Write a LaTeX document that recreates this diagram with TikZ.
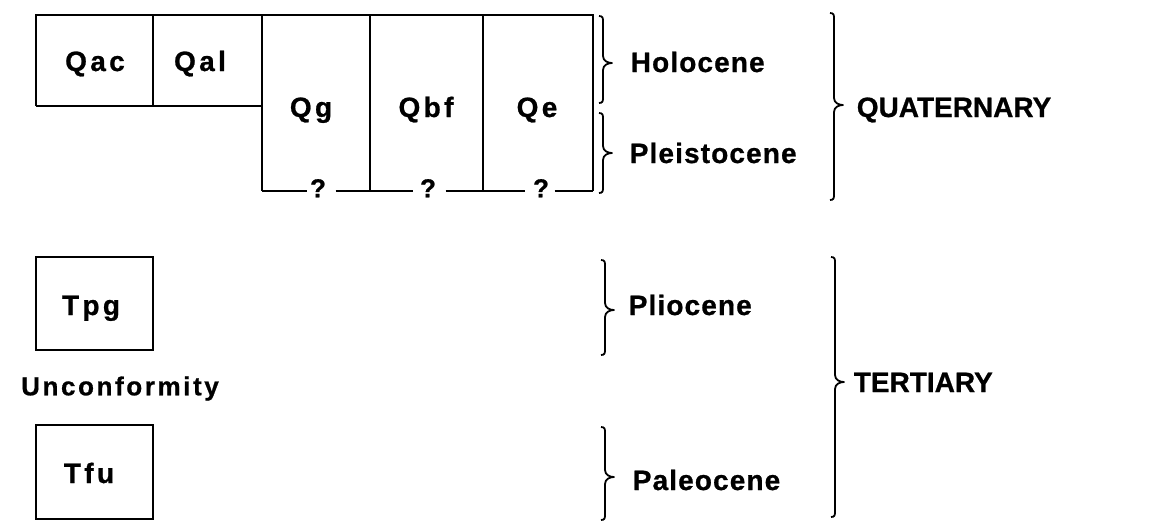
\documentclass[tikz,border=0pt]{standalone}
\usepackage{fontspec}
\setmainfont{Liberation Sans}[BoldFeatures={FakeBold=0.8}]
\newfontfamily\epfont{Liberation Sans}[LetterSpace=4,BoldFeatures={FakeBold=0.8}]
\newfontfamily\perfont{Liberation Sans}[LetterSpace=0,BoldFeatures={FakeBold=0.8}]
\newfontfamily\boxfont{Liberation Sans}[LetterSpace=12,BoldFeatures={FakeBold=0.8}]
\newfontfamily\uncfont{Liberation Sans}[LetterSpace=10,BoldFeatures={FakeBold=0.8}]
% right-pointing brace: x of stem, top y, bottom y, tip y
\newcommand\geobrace[4]{%
  \draw[brc] ({#1-4},{#2}) .. controls ({#1},{#2}) and ({#1},{#2+2}) .. ({#1},{#2+6})
    -- ({#1},{#4-7}) .. controls ({#1},{#4-2}) and ({#1+5},{#4}) .. ({#1+9},{#4})
    .. controls ({#1+5},{#4}) and ({#1},{#4+2}) .. ({#1},{#4+7})
    -- ({#1},{#3-6}) .. controls ({#1},{#3-2}) and ({#1},{#3}) .. ({#1-4},{#3});}
\begin{document}
\begin{tikzpicture}[x=1pt,y=-1pt,line width=1.6pt,
  lbl/.style={font=\fontsize{28}{28}\selectfont\epfont\bfseries,inner sep=0pt,text height=20pt,text depth=0pt},
  perlbl/.style={font=\fontsize{28}{28}\selectfont\perfont\bfseries,inner sep=0pt,text height=20pt,text depth=0pt},
  boxlbl/.style={font=\fontsize{28}{28}\selectfont\boxfont\bfseries,inner sep=0pt,text height=20pt,text depth=0pt},
  qm/.style={font=\fontsize{26}{26}\selectfont\bfseries,inner sep=0pt,text height=18.6pt,text depth=0pt},
  brc/.style={line width=1.8pt,line join=round}]
\useasboundingbox (0,0) rectangle (1153,520);
% Quaternary units frame
\coordinate (tl) at (36,15);
\coordinate (tr) at (593,15);
\coordinate (ml) at (36,106);
\coordinate (mr) at (262,106);
\coordinate (bl) at (262,191);
\coordinate (br) at (593,191);
\draw (ml) -- (tl) -- (tr) -- (br);
\draw (ml) -- (mr);
\draw (153,15) -- (153,106);
\draw (262,15) -- (bl);
\draw (370,15) -- (370,191);
\draw (483,15) -- (483,191);
\node[qm] (q1) at (318,188) {?};
\node[qm] (q2) at (428,188) {?};
\node[qm] (q3) at (541,188) {?};
\draw (bl) -- ([xshift=-2pt]q1.west |- bl);
\draw ([xshift=9pt]q1.east |- bl) -- ([xshift=-6pt]q2.west |- bl);
\draw ([xshift=9pt]q2.east |- bl) -- ([xshift=-7pt]q3.west |- bl);
\draw ([xshift=5pt]q3.east |- bl) -- (br);
\node[boxlbl] (qac) at (95,61) {Qac};
\node[boxlbl] (qal) at (200,61) {Qal};
\node[boxlbl] (qg) at (311,107) {Qg};
\node[boxlbl] (qbf) at (426,107) {Qbf};
\node[boxlbl] (qe) at (537,107) {Qe};
% Tertiary units
\draw (36,257) rectangle (153,350);
\node[boxlbl] (tpg) at (91,305) {Tpg};
\draw (36,425) rectangle (153,519);
\node[boxlbl] (tfu) at (89,473) {Tfu};
\node[font=\fontsize{26}{26}\selectfont\uncfont\bfseries,inner sep=0pt,text height=18.6pt,text depth=0pt] (unc) at (120,386) {Unconformity};
% Epoch braces
\geobrace{603}{16}{103}{63}
\node[lbl,anchor=west] (hol) at (630,62) {Holocene};
\geobrace{603}{113}{193}{153}
\node[lbl,anchor=west] (ple) at (629,153) {Pleistocene};
\geobrace{605}{260}{355}{310}
\node[lbl,anchor=west] (pli) at (628,305) {Pliocene};
\geobrace{605}{427}{520}{477}
\node[lbl,anchor=west] (pal) at (632,480) {Paleocene};
% Period braces
\geobrace{834}{13}{200}{105}
\node[perlbl,anchor=west] (qua) at (856,107) {QUATERNARY};
\geobrace{835}{257}{517}{382}
\node[perlbl,anchor=west] (ter) at (853,382) {TERTIARY};
\end{tikzpicture}
\end{document}
